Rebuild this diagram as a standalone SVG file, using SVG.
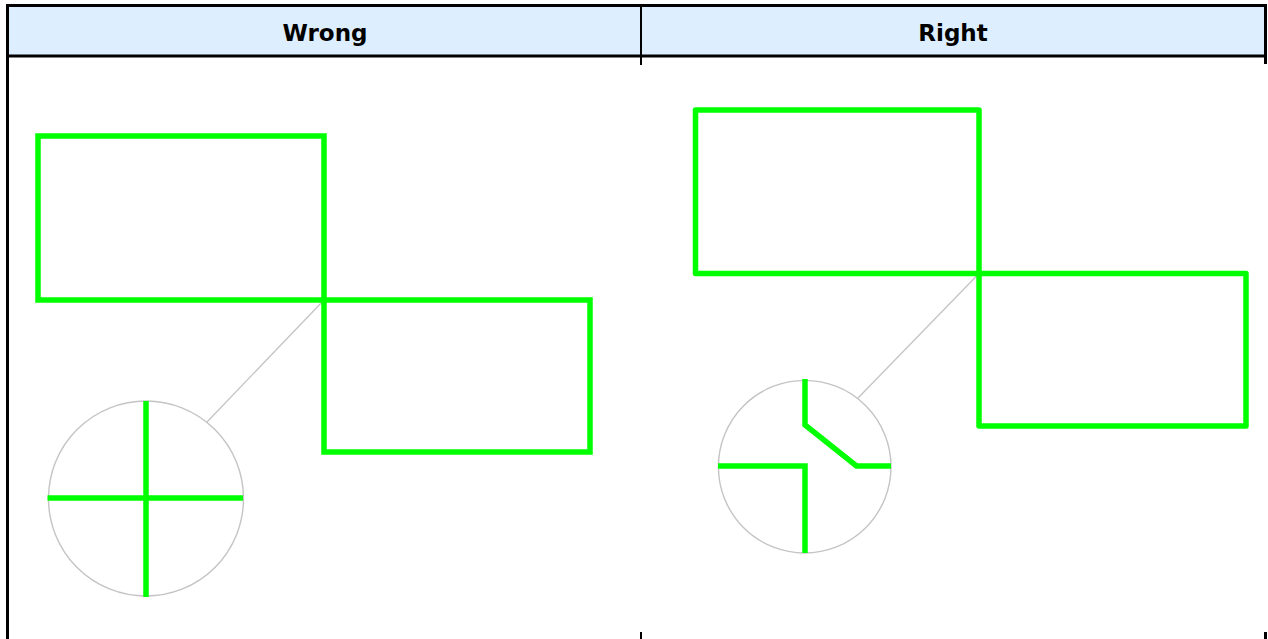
<svg xmlns="http://www.w3.org/2000/svg" width="1268" height="639" viewBox="0 0 1268 639">
<style>
.hdr{fill:#ddeeff}
.bd{fill:#000}
.th{font-family:"DejaVu Sans",Verdana,sans-serif;font-weight:bold;font-size:23px;fill:#000;text-anchor:middle}
.g{fill:none;stroke:#00ff00;stroke-width:5.5}
.gr{stroke-linejoin:round;stroke-linecap:round}
.ring{fill:none;stroke:#c4c4c4;stroke-width:1.4}
.lead{stroke:#c4c4c4;stroke-width:1.3;fill:none}
</style>
<rect width="1268" height="639" fill="#fff"/>
<g id="table">
<rect class="hdr" x="8" y="7" width="1257" height="48"/>
<rect class="bd" x="6" y="4" width="1261" height="3"/>
<rect class="bd" x="6" y="4" width="3" height="635"/>
<rect class="bd" x="1264" y="4" width="3" height="60"/>
<rect class="bd" x="1264" y="632" width="3" height="7"/>
<rect class="bd" x="6" y="54.5" width="1261" height="3"/>
<rect class="bd" x="640" y="7" width="2" height="58"/>
<rect class="bd" x="640" y="632" width="2" height="7"/>
<text class="th" x="325" y="40.5">Wrong</text>
<text class="th" x="953" y="40.5">Right</text>
</g>
<g id="connectors">
<line class="lead" x1="324" y1="300" x2="207" y2="422"/>
<line class="lead" x1="979" y1="273.5" x2="858" y2="398"/>
</g>
<g id="wrong-rect-1"><rect class="g" x="38" y="136" width="286" height="164"/></g>
<g id="wrong-rect-2"><rect class="g" x="324" y="300" width="266" height="152"/></g>
<g id="wrong-zoom">
<circle class="ring" cx="146" cy="498.5" r="97.5"/>
<line class="g" x1="146" y1="401" x2="146" y2="597"/>
<line class="g" x1="47.5" y1="498" x2="243" y2="498"/>
</g>
<g id="right-rect-1"><rect class="g gr" x="695.5" y="110" width="283.5" height="163.5"/></g>
<g id="right-rect-2"><rect class="g gr" x="979" y="273.5" width="267" height="152.5"/></g>
<g id="right-zoom">
<circle class="ring" cx="804.7" cy="466.7" r="86.3"/>
<polyline class="g" points="805,379 805,425 856.5,466 891,466"/>
<polyline class="g" points="718,466 805,466 805,553"/>
</g>
</svg>
